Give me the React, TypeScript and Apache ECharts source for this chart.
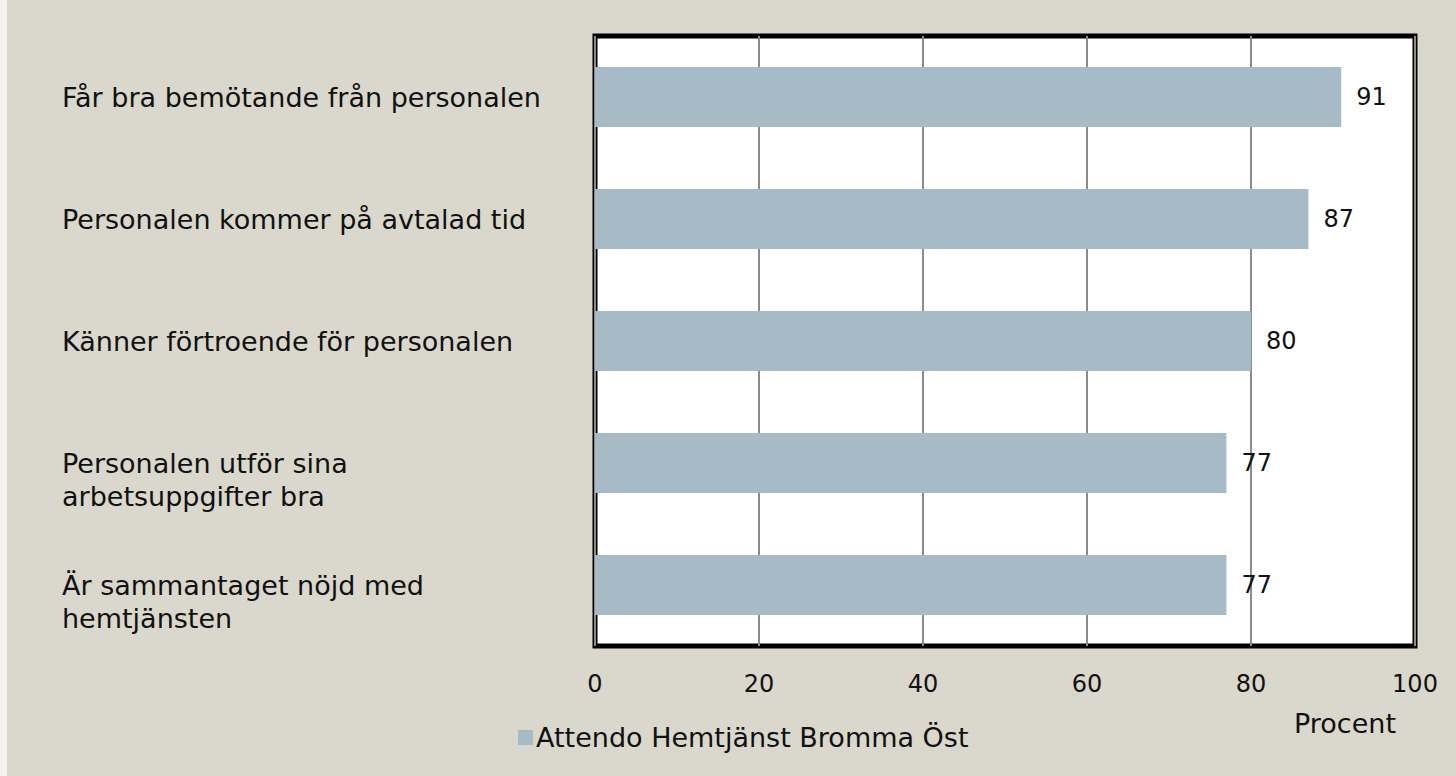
import React, { useEffect, useRef } from "react";
import * as echarts from "echarts";

const categories = [
  "Får bra bemötande från personalen",
  "Personalen kommer på avtalad tid",
  "Känner förtroende för personalen",
  "Personalen utför sina\narbetsuppgifter bra",
  "Är sammantaget nöjd med\nhemtjänsten",
];
const values = [91, 87, 80, 77, 77];
const seriesName = "Attendo Hemtjänst Bromma Öst";
const xTicks = [0, 20, 40, 60, 80, 100];

const FONT = "DejaVu Sans";
const TXT = 27;
const NUM = 24;

export default function App() {
  const ref = useRef<HTMLDivElement>(null);
  useEffect(() => {
    const chart = echarts.init(ref.current!, null, { renderer: "svg" });
    chart.setOption({
      animation: false,
      backgroundColor: "#dad8cc",
      textStyle: { fontFamily: FONT },
      graphic: [
        {
          type: "rect",
          left: 0,
          top: 0,
          shape: { width: 7, height: 776 },
          style: { fill: "#f4f3ef" },
          silent: true,
        },
      ],
      grid: {
        left: 595,
        right: 41,
        top: 36,
        bottom: 130,
        outerBoundsMode: "none",
        containLabel: false,
        show: true,
        backgroundColor: "#ffffff",
        borderColor: "#000000",
        borderWidth: 5,
      },
      legend: {
        data: [seriesName],
        left: 513,
        top: 719,
        icon: "rect",
        itemWidth: 15,
        itemHeight: 15,
        itemGap: 6,
        textStyle: { fontFamily: FONT, fontSize: TXT, color: "#111", padding: [0, 0, 0, -2] },
      },
      xAxis: {
        type: "value",
        min: xTicks[0],
        max: xTicks[xTicks.length - 1],
        interval: 20,
        axisLine: { show: false },
        axisTick: { show: false },
        splitLine: { show: true, lineStyle: { color: "#8c8c8c", width: 2 } },
        axisLabel: { fontFamily: FONT, fontSize: NUM, color: "#111", margin: 26 },
        name: "Procent",
        nameLocation: "end",
        nameGap: -70,
        nameTextStyle: {
          fontFamily: FONT,
          fontSize: TXT,
          color: "#111",
          align: "center",
          verticalAlign: "top",
          padding: [64, 0, 0, 0],
        },
      },
      yAxis: {
        type: "category",
        inverse: true,
        data: categories,
        axisLine: { show: false },
        axisTick: { show: false },
        splitLine: { show: false },
        axisLabel: {
          interval: 0,
          fontFamily: FONT,
          fontSize: TXT,
          color: "#111",
          align: "left",
          margin: 533,
          lineHeight: 33,
          padding: [4, 0, 0, 0],
          formatter: (v: string) => (v.includes("\n") ? "\n" + v : v),
        },
      },
      series: [
        {
          name: seriesName,
          type: "bar",
          data: values,
          barWidth: "49%",
          itemStyle: { color: "#a7bbc6" },
          label: {
            show: true,
            position: "right",
            distance: 15,
            fontFamily: FONT,
            fontSize: NUM,
            color: "#111",
          },
        },
      ],
    });
    return () => chart.dispose();
  }, []);
  return (
    <div
      ref={ref}
      style={{ position: "fixed", left: 0, top: 0, width: 1456, height: 776 }}
    />
  );
}
